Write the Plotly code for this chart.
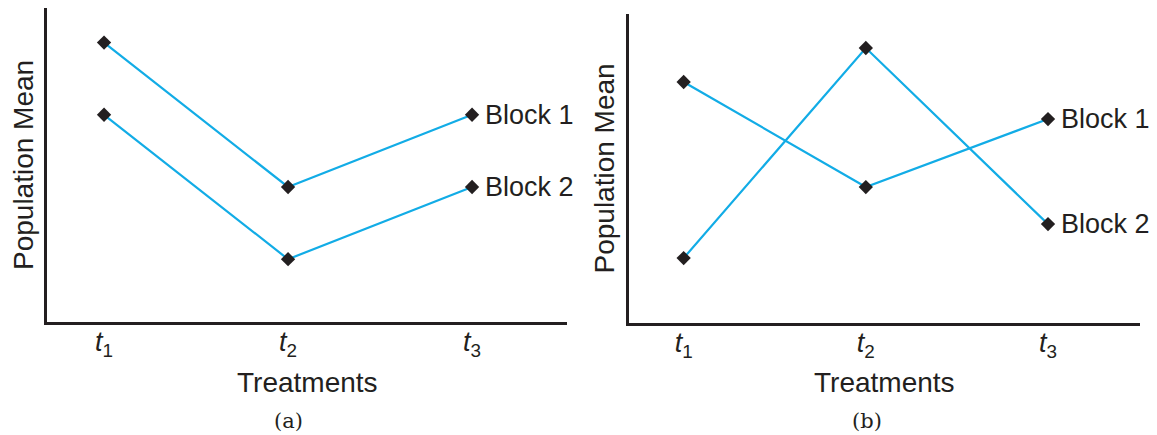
import plotly.graph_objects as go

treatments = ["t1", "t2", "t3"]
tick_labels = ["<i>t</i><sub>1</sub>", "<i>t</i><sub>2</sub>", "<i>t</i><sub>3</sub>"]
block_names = ["Block 1", "Block 2"]

# panel (a): parallel profiles (no interaction)
a_block1 = [8.9, 4.3, 6.6]
a_block2 = [6.6, 2.0, 4.3]
# panel (b): crossing profiles (interaction)
b_block1 = [7.8, 4.4, 6.6]
b_block2 = [2.1, 8.9, 3.2]

panel_captions = ["(a)", "(b)"]

xs = [0, 1, 2]
LINE = "#12ACE6"
AX = "#231F20"
FONT = "Liberation Sans, Arial, Helvetica, sans-serif"

fig = go.Figure()

def add_panel(vals1, vals2, xa, ya):
    for vals, name in zip([vals1, vals2], block_names):
        fig.add_trace(go.Scatter(
            x=xs, y=vals, mode="lines+markers", name=name,
            xaxis=xa, yaxis=ya,
            line=dict(color=LINE, width=2.2),
            marker=dict(symbol="diamond", size=11, color=AX),
            showlegend=False, cliponaxis=False))
        fig.add_annotation(x=2, y=vals[2], xref=xa, yref=ya, text=name,
                           showarrow=False, xanchor="left", yanchor="middle",
                           xshift=11, font=dict(family=FONT, size=27, color=AX))

add_panel(a_block1, a_block2, "x", "y")
add_panel(b_block1, b_block2, "x2", "y2")

axis_common = dict(showline=True, linecolor=AX, linewidth=2.5, showgrid=False,
                   zeroline=False)

fig.update_layout(
    width=1157, height=435,
    margin=dict(l=0, r=0, t=0, b=0),
    paper_bgcolor="white", plot_bgcolor="white",
    xaxis=dict(domain=[47/1157, 567/1157], range=[-0.31, 2.516],
               tickvals=xs, ticktext=tick_labels, ticks="", ticklabelstandoff=-6,
               tickfont=dict(family=FONT, size=27, color=AX), **axis_common),
    yaxis=dict(domain=[113/435, 427/435], range=[0, 10], showticklabels=False,
               ticks="", **axis_common),
    xaxis2=dict(domain=[629/1157, 1140/1157], range=[-0.30, 2.505],
                tickvals=xs, ticktext=tick_labels, ticks="", ticklabelstandoff=-6,
                tickfont=dict(family=FONT, size=27, color=AX), anchor="y2", **axis_common),
    yaxis2=dict(domain=[112/435, 421/435], range=[0, 10], showticklabels=False,
                ticks="", anchor="x2", **axis_common),
)

for cx, ycenter in [(23, (8+322)/2), (604, (14+323)/2)]:
    fig.add_annotation(x=cx/1157, y=1 - ycenter/435, xref="paper", yref="paper",
                       text="Population Mean", textangle=-90, showarrow=False,
                       font=dict(family=FONT, size=28, color=AX),
                       xanchor="center", yanchor="middle")
for cx, cap_x, cap in [(307, 288, panel_captions[0]), (884, 867, panel_captions[1])]:
    fig.add_annotation(x=cx/1157, y=1 - 382/435, xref="paper", yref="paper",
                       text="Treatments", showarrow=False,
                       font=dict(family=FONT, size=28, color=AX),
                       xanchor="center", yanchor="middle")
    fig.add_annotation(x=cap_x/1157, y=1 - 421/435, xref="paper", yref="paper",
                       text=cap, showarrow=False,
                       font=dict(family="DejaVu Serif, Liberation Serif, serif", size=21, color=AX),
                       xanchor="center", yanchor="middle")

fig.write_html("out.html", config={"displayModeBar": False},
               post_script="document.body.style.margin='0';document.body.style.overflow='hidden';")
